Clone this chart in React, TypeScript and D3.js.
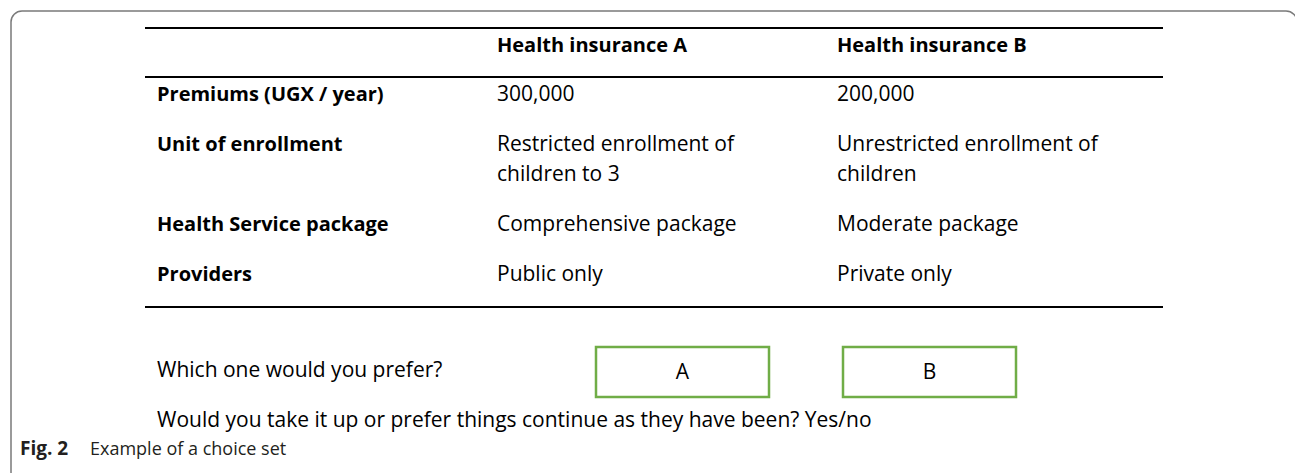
import React from 'react';
import * as d3 from 'd3';

const headers = ['Health insurance A', 'Health insurance B'];
const attributes = ['Premiums (UGX / year)', 'Unit of enrollment', 'Health Service package', 'Providers'];
const optionA = [['300,000'], ['Restricted enrollment of', 'children to 3'], ['Comprehensive package'], ['Public only']];
const optionB = [['200,000'], ['Unrestricted enrollment of', 'children'], ['Moderate package'], ['Private only']];
const choices = ['A', 'B'];
const question1 = 'Which one would you prefer?';
const question2 = 'Would you take it up or prefer things continue as they have been? Yes/no';
const captionBold = 'Fig. 2';
const captionText = 'Example of a choice set';

const W = 1295, H = 473;
const font = '"Open Sans", sans-serif';

export default function App() {
  // columns: labels, option A, option B
  const x = d3.scaleOrdinal<string, number>()
    .domain(['label', 'A', 'B'])
    .range([157, 497, 837]);

  // row baselines: 50px per row, 30px per extra wrapped line
  let extra = 0;
  const rowY = attributes.map((_, i) => {
    const y = 101 + 50 * i + 30 * extra;
    extra += Math.max(optionA[i].length, optionB[i].length) - 1;
    return y;
  });
  const lineGap = 30;

  const boxX = d3.scaleOrdinal<string, number>().domain(choices).range([596, 843]);
  const boxW = 173, boxY = 347, boxH = 50;

  return (
    <svg width={W} height={H} style={{ position: 'absolute', left: 0, top: 0, background: '#fff' }}>
      <rect x={11} y={11} width={1286} height={472} rx={11} fill="none" stroke="#7a7a7a" strokeWidth={1.5} />

      <line x1={145} x2={1163} y1={28} y2={28} stroke="#000" strokeWidth={2} />
      <line x1={145} x2={1163} y1={77} y2={77} stroke="#000" strokeWidth={2} />
      <line x1={145} x2={1163} y1={307} y2={307} stroke="#000" strokeWidth={2} />

      <g fontFamily={font} fontSize={21} fill="#000">
        {headers.map((h, i) => (
          <text key={h} x={x(i === 0 ? 'A' : 'B')} y={52} fontWeight="bold" fontSize={20}>{h}</text>
        ))}
        {attributes.map((a, i) => (
          <g key={a}>
            <text x={x('label')} y={rowY[i]} fontWeight="bold" fontSize={20}>{a}</text>
            {optionA[i].map((t, j) => (
              <text key={'a' + j} x={x('A')} y={rowY[i] + j * lineGap}>{t}</text>
            ))}
            {optionB[i].map((t, j) => (
              <text key={'b' + j} x={x('B')} y={rowY[i] + j * lineGap}>{t}</text>
            ))}
          </g>
        ))}

        <text x={157} y={377}>{question1}</text>
        {choices.map(c => (
          <g key={c}>
            <rect x={boxX(c)} y={boxY} width={boxW} height={boxH} fill="none" stroke="#70ad47" strokeWidth={2.5} />
            <text x={boxX(c) + boxW / 2} y={379} textAnchor="middle">{c}</text>
          </g>
        ))}
        <text x={157} y={427}>{question2}</text>
      </g>

      <text x={20} y={455} fontFamily='"Open Sans", sans-serif' fontSize={18} fill="#231f20">
        <tspan fontWeight="bold" fontSize={19}>{captionBold}</tspan>
        <tspan x={90}>{captionText}</tspan>
      </text>
    </svg>
  );
}
